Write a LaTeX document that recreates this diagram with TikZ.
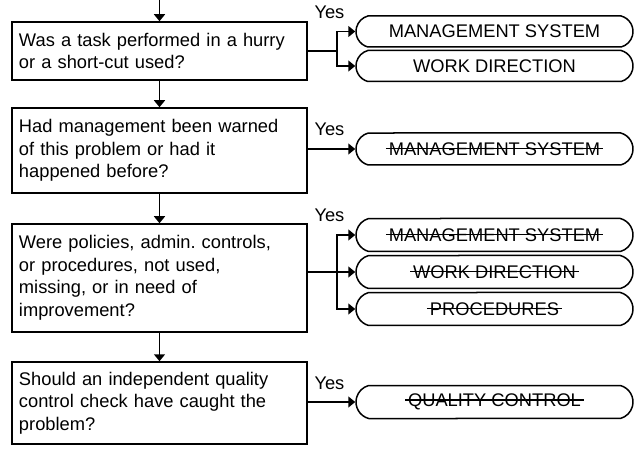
\documentclass[tikz,border=0pt]{standalone}
\usepackage{fontspec}
\setmainfont{Liberation Sans}
\usepackage{tikz}
\usetikzlibrary{arrows.meta,positioning,calc,shapes.misc}
\newcommand{\crossout}[1]{\setbox0\hbox{#1}\makebox[0pt][l]{\kern-3pt\rule[0.32em]{\dimexpr\wd0+6pt\relax}{1.5pt}}\box0}
\frenchspacing

\begin{document}
\begin{tikzpicture}[x=1pt,y=-1pt,>={Triangle[length=7pt,width=11pt]},line width=1.5pt,
  every node/.style={font=\fontsize{18.3}{22.5}\selectfont},
  qbox/.style={draw,minimum width=295pt,text width=281pt,align=left,inner sep=0pt},
  term/.style={draw,rounded rectangle,rounded rectangle arc length=150,minimum width=277pt,minimum height=32pt,inner sep=0pt},
  yes/.style={anchor=base west,inner sep=0pt}]
\useasboundingbox (0,0) rectangle (635,449);
\coordinate (start) at (159.5,0);
\node[qbox,minimum height=58pt] (q1) at (159.5,51) {Was a task performed in a hurry\\or a short-cut used?};
\node[qbox,minimum height=85pt] (q2) at (159.5,150.5) {Had management been warned\\of this problem or had it\\happened before?};
\node[qbox,minimum height=108pt] (q3) at (159.5,278) {Were policies, admin. controls,\\or procedures, not used,\\missing, or in need of\\improvement?};
\node[qbox,minimum height=82pt] (q4) at (159.5,403) {Should an independent quality\\control check have caught the\\problem?};
\draw[->] (start) -- (q1.north);
\draw[->] (q1) -- (q2);
\draw[->] (q2) -- (q3);
\draw[->] (q3) -- (q4);
\node[term,minimum height=31pt] (t1a) at (494.5,31.5) {MANAGEMENT SYSTEM};
\node[term,minimum height=31pt] (t1b) at (494.5,66) {WORK DIRECTION};
\node[term] (t2) at (494.5,149) {\crossout{MANAGEMENT SYSTEM}};
\node[term,minimum height=33pt] (t3a) at (494.5,235) {\crossout{MANAGEMENT SYSTEM}};
\node[term,minimum height=33pt] (t3b) at (494.5,272) {\crossout{WORK DIRECTION}};
\node[term,minimum height=33pt] (t3c) at (494.5,309) {\crossout{PROCEDURES}};
\node[term,minimum height=33pt] (t4) at (494.5,402) {\crossout{QUALITY CONTROL}};
\draw (q1.east) -- ++(29,0) coordinate (b1);
\draw[->] (b1) |- (t1a.west);
\draw[->] (b1) |- (t1b.west);
\draw[->] (q2.east |- t2.west) -- (t2.west);
\coordinate (b3) at ($(q3.east |- t3b.west)+(29,0)$);
\draw (q3.east |- t3b.west) -- (b3);
\draw[->] (b3) |- (t3a.west);
\draw[->] (b3) -- (t3b.west);
\draw[->] (b3) |- (t3c.west);
\draw[->] (q4.east |- t4.west) -- (t4.west);
\node[yes] (y1) at ($(q1.east |- t1a.west)+(6,-13)$) {Yes};
\node[yes] (y2) at ($(q2.east |- t2.west)+(6,-13)$) {Yes};
\node[yes] (y3) at ($(q3.east |- t3a.west)+(6,-13)$) {Yes};
\node[yes] (y4) at ($(q4.east |- t4.west)+(6,-13)$) {Yes};
\end{tikzpicture}
\end{document}
